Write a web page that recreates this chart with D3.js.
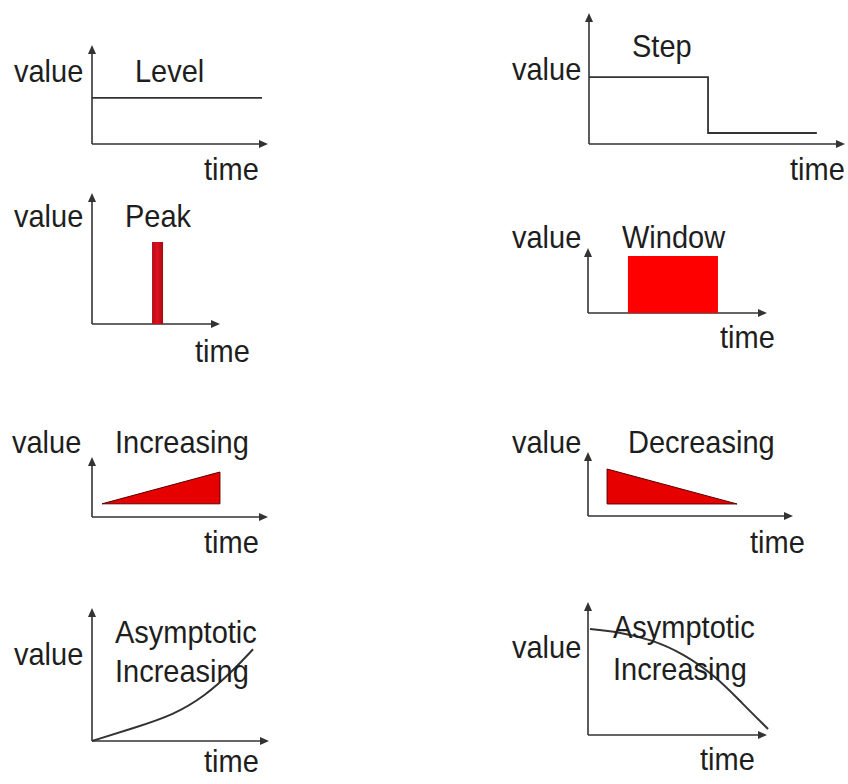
<!DOCTYPE html>
<html><head><meta charset="utf-8">
<script src="https://cdn.jsdelivr.net/npm/d3@7"></script>
<style>body{margin:0;background:#fff}svg{display:block}text{font-family:"Liberation Sans",Arial,sans-serif;fill:#1e1e1e}</style>
</head><body>
<script>
// ---- data (value units on a 0..10 scale for each small diagram) ----
const titles = ["Level","Step","Peak","Window","Increasing","Decreasing",["Asymptotic","Increasing"],["Asymptotic","Increasing"]];
const axisLabelX = "time";
const axisLabelY = "value";
const levelSeries = [[0,4.65],[9.66,4.65]];
const stepSeries = [[0,5.11],[4.65,5.11],[4.65,0.84],[8.9,0.84]];
const peakBar = {x0:4.69, x1:5.55, v:6.26};
const windowBar = {x0:2.23, x1:7.26, v:8.77};
const increasingArea = [[0.57,2.2],[7.27,7.5],[7.27,2.2]];
const decreasingArea = [[0.93,7.34],[0.93,1.88],[7.27,1.88]];
const asymIncSeries = [[0,0],[2.3,0.95],[4.6,1.95],[6.4,3.4],[7.9,5.2],[9.1,6.9]];
const asymDecSeries = [[0.11,7.97],[1.7,7.75],[3.5,7.2],[5.3,6.15],[7.2,4.35],[8.6,2.4],[10.06,0.45]];

// ---- layout ----
const W = 848, H = 784;
const panels = [
  {ox:92, oy:144, w:176, h:99, val:[14,82], title:[[135,82]], time:[204,180]},
  {ox:589, oy:144, w:256, h:131, val:[512,80], title:[[632,57]], time:[790,180]},
  {ox:92, oy:324, w:128, h:131, val:[14,227], title:[[125,227]], time:[195,362]},
  {ox:588, oy:313, w:179, h:65, val:[512,248], title:[[622,248]], time:[720,348]},
  {ox:92, oy:517, w:176, h:60, val:[12,453], title:[[115,453]], time:[204,553]},
  {ox:588, oy:516, w:205, h:64, val:[512,453], title:[[628,453]], time:[750,553]},
  {ox:92, oy:741, w:177, h:133, val:[14,665], title:[[115,643],[115,682]], time:[204,772]},
  {ox:588, oy:735, w:179, h:133, val:[512,658], title:[[613,638],[613,680]], time:[700,770]}
];

const svg = d3.select("body").append("svg").attr("width",W).attr("height",H);
svg.append("rect").attr("width",W).attr("height",H).attr("fill","#fff");

const ink = "#333";
panels.forEach((p,i)=>{
  p.x = d3.scaleLinear().domain([0,10]).range([p.ox, p.ox+p.w]);
  p.y = d3.scaleLinear().domain([0,10]).range([p.oy, p.oy-p.h]);
});

function drawAxes(p){
  const g = svg.append("g");
  g.append("line").attr("x1",p.x(0)).attr("y1",p.y(0)).attr("x2",p.x(10)-6).attr("y2",p.y(0)).attr("stroke",ink).attr("stroke-width",1.6);
  g.append("line").attr("x1",p.x(0)).attr("y1",p.y(0)).attr("x2",p.x(0)).attr("y2",p.y(10)+6).attr("stroke",ink).attr("stroke-width",1.6);
  const tx = p.x(10), ty = p.y(0);
  g.append("path").attr("d",`M${tx},${ty} L${tx-9},${ty-4} L${tx-9},${ty+4} Z`).attr("fill",ink);
  const ux = p.x(0), uy = p.y(10);
  g.append("path").attr("d",`M${ux},${uy} L${ux-4},${uy+9} L${ux+4},${uy+9} Z`).attr("fill",ink);
}

function addText(g,x,y,s){
  g.append("text").attr("transform",`translate(${x},${y}) scale(1,1.06)`).text(s);
}
function drawTexts(p,i){
  const g = svg.append("g").attr("font-size",29);
  addText(g,p.val[0],p.val[1],axisLabelY);
  addText(g,p.time[0],p.time[1],axisLabelX);
  const t = Array.isArray(titles[i]) ? titles[i] : [titles[i]];
  t.forEach((s,k)=>addText(g,p.title[k][0],p.title[k][1],s));
}

panels.forEach((p,i)=>{ drawAxes(p); });

const line = (p)=>d3.line().x(d=>p.x(d[0])).y(d=>p.y(d[1]));
const curve = (p)=>d3.line().x(d=>p.x(d[0])).y(d=>p.y(d[1])).curve(d3.curveBasis);

// Level
svg.append("path").attr("d",line(panels[0])(levelSeries)).attr("fill","none").attr("stroke",ink).attr("stroke-width",1.8);
// Step
svg.append("path").attr("d",line(panels[1])(stepSeries)).attr("fill","none").attr("stroke",ink).attr("stroke-width",1.8);
// Peak
{const p=panels[2];
 const grad = svg.append("defs").append("linearGradient").attr("id","pk").attr("x1","0").attr("x2","1");
 grad.append("stop").attr("offset","0").attr("stop-color","#b0101c");
 grad.append("stop").attr("offset","0.5").attr("stop-color","#e0101c");
 grad.append("stop").attr("offset","1").attr("stop-color","#a00a14");
 svg.append("rect").attr("x",p.x(peakBar.x0)).attr("width",p.x(peakBar.x1)-p.x(peakBar.x0))
   .attr("y",p.y(peakBar.v)).attr("height",p.y(0)-p.y(peakBar.v)).attr("fill","url(#pk)");}
// Window
{const p=panels[3];
 svg.append("rect").attr("x",p.x(windowBar.x0)).attr("width",p.x(windowBar.x1)-p.x(windowBar.x0))
   .attr("y",p.y(windowBar.v)).attr("height",p.y(0)-p.y(windowBar.v)).attr("fill","#ff0000");}
// Increasing / Decreasing
svg.append("path").attr("d",line(panels[4])(increasingArea)+"Z").attr("fill","#e60000").attr("stroke","#5a0000").attr("stroke-width",1);
svg.append("path").attr("d",line(panels[5])(decreasingArea)+"Z").attr("fill","#e60000").attr("stroke","#5a0000").attr("stroke-width",1);
// Asymptotic curves
svg.append("path").attr("d",curve(panels[6])(asymIncSeries)).attr("fill","none").attr("stroke",ink).attr("stroke-width",2);
svg.append("path").attr("d",curve(panels[7])(asymDecSeries)).attr("fill","none").attr("stroke",ink).attr("stroke-width",2);

panels.forEach((p,i)=>drawTexts(p,i));
</script>
</body></html>
